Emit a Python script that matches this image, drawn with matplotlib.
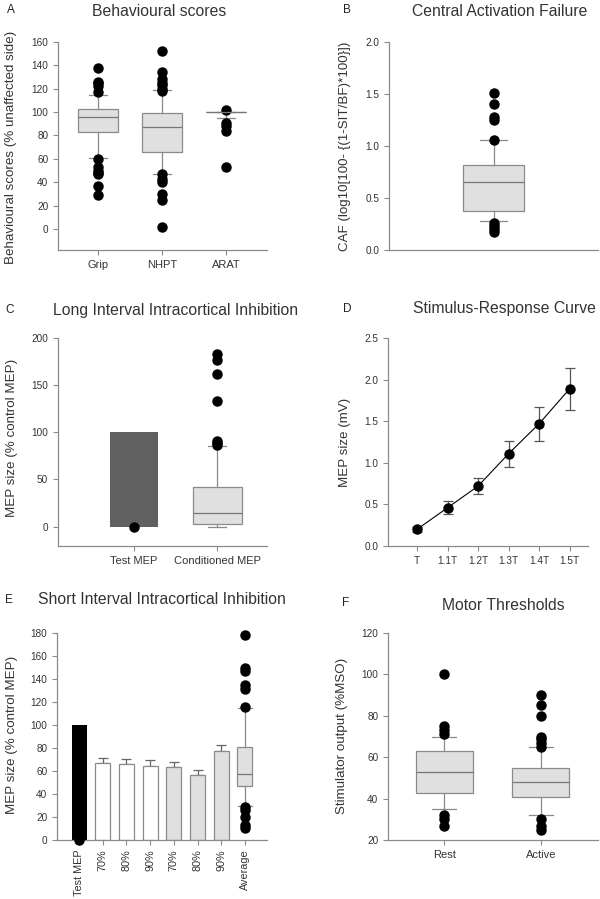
import matplotlib
matplotlib.use("Agg")
import matplotlib.pyplot as plt

plt.rcParams["font.family"] = ["Liberation Sans", "DejaVu Sans"]

W, H = 600, 899
TXT = "#333333"
AXC = "#8a8a8a"
BOXFACE = "#e0e0e0"

# ── Data ──────────────────────────────────────────────────────────────────────
# A: behavioural scores, box = 25-75th, whiskers = 10-90th percentiles
beh_labels = ["Grip", "NHPT", "ARAT"]
beh_q1 = [83, 65.5, 100]
beh_med = [96, 87, 100]
beh_q3 = [103, 99, 100]
beh_lo = [60.5, 47, 95]
beh_hi = [115, 118.5, 100]
beh_fliers = [
    [138, 126, 125, 122, 117, 60, 53, 50, 48, 47, 37, 29],
    [152, 134.5, 128, 125, 123, 120, 118, 47, 43, 40, 30, 24.5, 2],
    [102, 91, 88, 84, 53],
]

# B: central activation failure
caf_q1, caf_med, caf_q3 = 0.376, 0.652, 0.82
caf_lo, caf_hi = 0.28, 1.06
caf_fliers = [1.51, 1.40, 1.28, 1.25, 1.06, 0.26, 0.23, 0.20, 0.17]

# C: LICI
lici_labels = ["Test MEP", "Conditioned MEP"]
lici_test = 100
lici_q1, lici_med, lici_q3 = 2.5, 14, 41.6
lici_lo, lici_hi = 0, 85.5
lici_fliers = [183, 177, 162, 133, 91, 89, 87]

# D: stimulus-response curve
src_labels = ["T", "1.1T", "1.2T", "1.3T", "1.4T", "1.5T"]
src_mean = [0.20, 0.46, 0.72, 1.11, 1.47, 1.89]
src_err = [0.03, 0.075, 0.10, 0.155, 0.205, 0.255]

# E: SICI
sici_labels = ["Test MEP", "70%", "80%", "90%", "70%", "80%", "90%", "Average"]
sici_test = 100
sici_mean = [67, 66, 64.5, 63.7, 56.2, 77]
sici_err = [3.9, 4.3, 5.0, 4.3, 4.6, 6.0]
sici_q1, sici_med, sici_q3 = 47.2, 57, 81
sici_lo, sici_hi = 29.8, 114.6
sici_fliers = [178, 150, 147, 134.5, 131.5, 116, 29, 26, 20, 13, 10.5]

# F: motor thresholds
mt_labels = ["Rest", "Active"]
mt_q1 = [42.8, 40.6]
mt_med = [53, 47.8]
mt_q3 = [62.9, 54.9]
mt_lo = [35, 32]
mt_hi = [69.8, 65]
mt_fliers = [
    [100, 75, 73, 71, 32, 30, 27],
    [90, 85, 80, 70, 69, 67, 65, 30, 27, 25],
]


# ── helpers ───────────────────────────────────────────────────────────────────
def add_ax(x0, y0, x1, y1):
    ax = fig.add_axes([x0 / W, 1 - y1 / H, (x1 - x0) / W, (y1 - y0) / H])
    for s in ("top", "right"):
        ax.spines[s].set_visible(False)
    for s in ("left", "bottom"):
        ax.spines[s].set_color(AXC)
        ax.spines[s].set_linewidth(0.9)
    ax.tick_params(colors=AXC, labelcolor=TXT, labelsize=7.2, length=3.5, width=0.8)
    ax.set_facecolor("none")
    return ax


def boxes(ax, pos, q1, med, q3, lo, hi, fliers, width, capw):
    stats = [dict(q1=a, med=m, q3=b, whislo=l, whishi=h, fliers=f)
             for a, m, b, l, h, f in zip(q1, med, q3, lo, hi, fliers)]
    ax.bxp(stats, positions=pos, widths=width, capwidths=capw, patch_artist=True,
           manage_ticks=False,
           boxprops=dict(facecolor=BOXFACE, edgecolor=AXC, linewidth=0.9),
           medianprops=dict(color="#777777", linewidth=0.9),
           whiskerprops=dict(color=AXC, linewidth=0.9),
           capprops=dict(color=AXC, linewidth=0.9),
           flierprops=dict(marker="o", markerfacecolor="black", markeredgecolor="black",
                           markersize=6.5, clip_on=False))


def ftext(x, y, s, **kw):
    kw.setdefault("color", TXT)
    fig.text(x / W, 1 - y / H, s, ha="center", va="center", **kw)


fig = plt.figure(figsize=(6, 8.99), dpi=100)

# ── A ─────────────────────────────────────────────────────────────────────────
ax = add_ax(58, 42, 267, 250)
boxes(ax, [1, 2, 3], beh_q1, beh_med, beh_q3, beh_lo, beh_hi, beh_fliers, 0.62, 0.27)
ax.set_xlim(0.375, 3.64)
ax.set_ylim(-18, 160)
ax.set_yticks(range(0, 161, 20))
ax.set_xticks([1, 2, 3])
ax.set_xticklabels(beh_labels, fontsize=8)

# ── B ─────────────────────────────────────────────────────────────────────────
ax = add_ax(389, 42, 598, 250)
boxes(ax, [1], [caf_q1], [caf_med], [caf_q3], [caf_lo], [caf_hi], [caf_fliers], 0.59, 0.25)
ax.set_xlim(0, 2)
ax.set_ylim(0, 2.0)
ax.set_yticks([0, 0.5, 1.0, 1.5, 2.0])
ax.set_yticklabels(["0.0", "0.5", "1.0", "1.5", "2.0"])
ax.set_xticks([])

# ── C ─────────────────────────────────────────────────────────────────────────
ax = add_ax(58, 338, 267, 546)
ax.bar([1], [lici_test], width=0.58, color="#606060", zorder=1)
ax.plot([1], [0], "o", color="black", markersize=6.5, clip_on=False, zorder=3)
boxes(ax, [2], [lici_q1], [lici_med], [lici_q3], [lici_lo], [lici_hi], [lici_fliers], 0.59, 0.22)
ax.set_xlim(0.084, 2.6)
ax.set_ylim(-20.5, 200)
ax.set_yticks(range(0, 201, 50))
ax.set_xticks([1, 2])
ax.set_xticklabels(lici_labels, fontsize=8)

# ── D ─────────────────────────────────────────────────────────────────────────
ax = add_ax(388, 338, 588, 546)
xs = list(range(len(src_labels)))
ax.errorbar(xs, src_mean, yerr=src_err, fmt="none", ecolor="#555555", elinewidth=0.9,
            capsize=3.5, capthick=0.9, zorder=1)
ax.plot(xs, src_mean, "-", color="black", linewidth=0.8, zorder=2)
ax.plot(xs, src_mean, "o", color="black", markersize=6.5, zorder=3)
ax.set_xlim(-0.95, 5.6)
ax.set_ylim(0, 2.5)
ax.set_yticks([0, 0.5, 1.0, 1.5, 2.0, 2.5])
ax.set_yticklabels(["0.0", "0.5", "1.0", "1.5", "2.0", "2.5"])
ax.set_xticks(xs)
ax.set_xticklabels(src_labels, fontsize=7.2)

# ── E ─────────────────────────────────────────────────────────────────────────
ax = add_ax(57, 633, 267, 840)
bw = 0.63
ax.bar([0], [sici_test], width=bw, color="black", zorder=1)
ax.plot([0], [0], "o", color="black", markersize=6.5, clip_on=False, zorder=3)
bx = list(range(1, 1 + len(sici_mean)))
cols = ["white"] * 3 + [BOXFACE] * 3
ax.bar(bx, sici_mean, width=bw, color=cols, edgecolor=AXC, linewidth=0.9, zorder=2)
ax.errorbar(bx, sici_mean, yerr=[[0] * len(sici_err), sici_err], fmt="none",
            ecolor="#666666", elinewidth=0.9, capsize=3.5, capthick=0.9, zorder=1)
boxes(ax, [7], [sici_q1], [sici_med], [sici_q3], [sici_lo], [sici_hi], [sici_fliers], bw, 0.6)
ax.set_xlim(-0.93, 7.93)
ax.set_ylim(0, 180)
ax.set_yticks(range(0, 181, 20))
ax.set_xticks(range(len(sici_labels)))
ax.set_xticklabels(sici_labels, rotation=90, fontsize=7.8)

# ── F ─────────────────────────────────────────────────────────────────────────
ax = add_ax(388, 633, 598, 840)
boxes(ax, [1, 2], mt_q1, mt_med, mt_q3, mt_lo, mt_hi, mt_fliers, 0.59, 0.25)
ax.set_xlim(0.42, 2.59)
ax.set_ylim(20, 120)
ax.set_yticks(range(20, 121, 20))
ax.set_xticks([1, 2])
ax.set_xticklabels(mt_labels, fontsize=8)

# ── titles, panel letters, axis labels ───────────────────────────────────────
tkw = dict(fontsize=11.3)
ftext(159, 11, "Behavioural scores", **tkw)
ftext(500, 11, "Central Activation Failure", **tkw)
ftext(176, 311, "Long Interval Intracortical Inhibition", **tkw)
ftext(504, 309, "Stimulus-Response Curve", **tkw)
ftext(162, 599, "Short Interval Intracortical Inhibition", **tkw)
ftext(503, 605, "Motor Thresholds", **tkw)

lkw = dict(fontsize=8.5, color="#222222")
ftext(11, 10, "A", **lkw)
ftext(347, 10, "B", **lkw)
ftext(10, 310, "C", **lkw)
ftext(347, 309, "D", **lkw)
ftext(9, 600, "E", **lkw)
ftext(346, 603, "F", **lkw)

ykw = dict(fontsize=9.6, rotation=90)
ftext(11, 147, "Behavioural scores (% unaffected side)", **ykw)
ftext(345, 146, "CAF (log10[100- {(1-SIT/BF)*100}])", **ykw)
ftext(12, 438, "MEP size (% control MEP)", **ykw)
ftext(345, 442, "MEP size (mV)", **ykw)
ftext(12, 735, "MEP size (% control MEP)", **ykw)
ftext(342, 736, "Stimulator output (%MSO)", **ykw)

fig.savefig("out.png", dpi=100)
